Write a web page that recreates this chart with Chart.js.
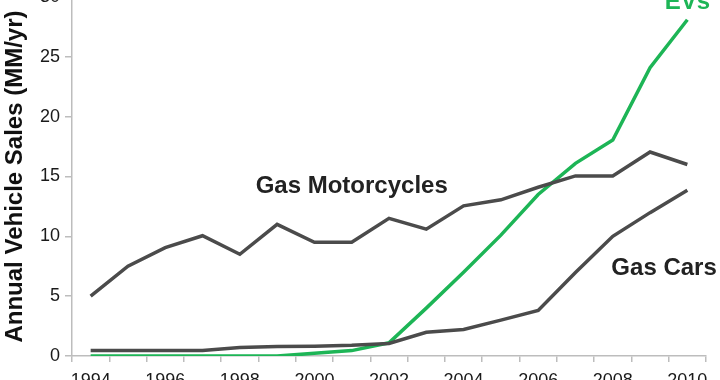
<!DOCTYPE html>
<html>
<head>
<meta charset="utf-8">
<script src="https://cdn.jsdelivr.net/npm/chart.js@4/dist/chart.umd.min.js"></script>
<style>
  html, body { margin: 0; padding: 0; background: #fff; overflow: hidden; }
  #wrap { position: absolute; left: 0; top: -20px; width: 720px; height: 440px; }
</style>
</head>
<body>
<div id="wrap"><canvas id="c" width="720" height="440"></canvas></div>
<script>
const years = ['1994','1995','1996','1997','1998','1999','2000','2001','2002','2003','2004','2005','2006','2007','2008','2009','2010'];
const gasMotorcycles = [5.0, 7.5, 9.05, 10.05, 8.5, 11.0, 9.5, 9.5, 11.5, 10.6, 12.55, 13.05, 14.1, 15.05, 15.05, 17.05, 16.0];
const gasCars = [0.45, 0.45, 0.45, 0.45, 0.72, 0.8, 0.82, 0.9, 1.05, 1.98, 2.22, 3.0, 3.8, 6.97, 10.0, 11.98, 13.85];
const evs = [0, 0, 0, 0, 0, 0, 0.22, 0.45, 1.1, 4.0, 7.0, 10.1, 13.5, 16.1, 18.05, 24.1, 28.1];
const yTicks = [0, 5, 10, 15, 20, 25, 30];
const seriesLabels = [
  { text: 'Gas Motorcycles', year: '2001', value: 13.63, color: '#222222' },
  { text: 'Gas Cars', year: '2009', value: 6.77, color: '#222222', dx: 14 },
  { text: 'EVs', year: '2010', value: 29.0, color: '#1db556' }
];

const gray = '#4b4b4b';
const green = '#1db556';

const labelPlugin = {
  id: 'seriesLabels',
  afterDatasetsDraw(chart) {
    const { ctx, scales: { x, y } } = chart;
    ctx.save();
    ctx.font = 'bold 24px "Liberation Sans", Arial, sans-serif';
    ctx.textAlign = 'center';
    ctx.textBaseline = 'alphabetic';
    seriesLabels.forEach(l => {
      ctx.fillStyle = l.color;
      ctx.fillText(l.text, x.getPixelForValue(years.indexOf(l.year)) + (l.dx || 0), y.getPixelForValue(l.value));
    });
    ctx.restore();
  }
};

new Chart(document.getElementById('c'), {
  type: 'line',
  data: {
    labels: years,
    datasets: [
      { label: 'Gas Motorcycles', data: gasMotorcycles, borderColor: gray, borderWidth: 3.5, pointRadius: 0, tension: 0 },
      { label: 'Gas Cars', data: gasCars, borderColor: gray, borderWidth: 3.5, pointRadius: 0, tension: 0 },
      { label: 'EVs', data: evs, borderColor: green, borderWidth: 3.5, pointRadius: 0, tension: 0 }
    ]
  },
  options: {
    responsive: false,
    animation: false,
    devicePixelRatio: 1,
    layout: { padding: { top: 17, bottom: 24, left: 0, right: 14 } },
    plugins: { legend: { display: false }, tooltip: { enabled: false } },
    scales: {
      x: {
        type: 'category',
        offset: true,
        afterFit(s) { s.height = 40; },
        border: { display: true, color: '#bdbdbd', width: 1.5 },
        grid: { offset: true, drawOnChartArea: false, drawTicks: true, tickLength: 6, color: '#bdbdbd', lineWidth: 1.5 },
        ticks: {
          autoSkip: false,
          maxRotation: 0,
          padding: 8,
          color: '#1a1a1a',
          font: { family: '"Liberation Sans", Arial, sans-serif', size: 18 },
          callback(v, i) { return i % 2 === 0 ? years[i] : ''; }
        }
      },
      y: {
        min: 0,
        max: 30,
        afterFit(s) { s.width = 72; },
        afterBuildTicks(s) { s.ticks = yTicks.map(v => ({ value: v })); },
        border: { display: true, color: '#bdbdbd', width: 1.5 },
        grid: { drawOnChartArea: false, drawTicks: true, tickLength: 7, color: '#bdbdbd', lineWidth: 1.5 },
        ticks: {
          padding: 5,
          color: '#1a1a1a',
          font: { family: '"Liberation Sans", Arial, sans-serif', size: 18 }
        },
        title: {
          display: true,
          text: 'Annual Vehicle Sales (MM/yr)',
          color: '#111111',
          padding: { top: 1, bottom: 0 },
          font: { family: '"Liberation Sans", Arial, sans-serif', size: 24, weight: 'bold' }
        }
      }
    }
  },
  plugins: [labelPlugin]
});
</script>
</body>
</html>
